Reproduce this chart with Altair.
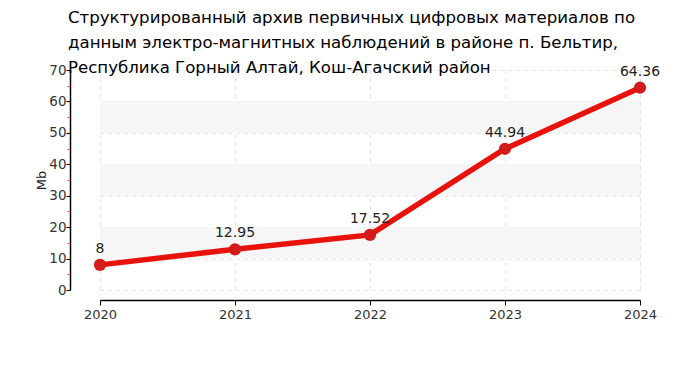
import altair as alt
import pandas as pd

years = [2020, 2021, 2022, 2023, 2024]
values = [8, 12.95, 17.52, 44.94, 64.36]
labels = ["8", "12.95", "17.52", "44.94", "64.36"]
band_start = [10, 30, 50]
band_end = [20, 40, 60]
minor_ticks = [5, 15, 25, 35, 45, 55, 65]
title_lines = [
    "Структурированный архив первичных цифровых материалов по",
    "данным электро-магнитных наблюдений в районе п. Бельтир,",
    "Республика Горный Алтай, Кош-Агачский район",
]

df = pd.DataFrame({"year": years, "value": values, "label": labels})
bands = pd.DataFrame({"y1": band_start, "y2": band_end})
minor = pd.DataFrame({"v": minor_ticks})

FONT = "DejaVu Sans"
yscale = alt.Scale(domain=[0, 70], nice=False)
xscale = alt.Scale(domain=[2020, 2024], nice=False)

band_layer = alt.Chart(bands).mark_rect(color="#f6f6f6").encode(
    y=alt.Y("y1:Q", scale=yscale,
            axis=alt.Axis(title="Mb", values=[0, 10, 20, 30, 40, 50, 60, 70],
                          offset=30, grid=True, gridDash=[4, 4], gridColor="#e4e4e4",
                          domainColor="#000", domainWidth=1.5, tickColor="#000",
                          tickSize=4, labelFontSize=13.5, labelColor="#333",
                          labelFont=FONT, titleFont=FONT, titleFontSize=13,
                          titleFontWeight="normal", titleColor="#222", titlePadding=0,
                          labelPadding=0, orient="left")),
    y2="y2:Q",
    x=alt.value(0),
    x2=alt.value(540),
)

minor_layer = alt.Chart(minor).mark_point(opacity=0).encode(
    y=alt.Y("v:Q", scale=yscale,
            axis=alt.Axis(title=None, values=minor_ticks, labels=False, domain=False,
                          grid=False, tickColor="#ff4040", tickSize=3, offset=30,
                          orient="left")),
    x=alt.value(0),
)

line_layer = alt.Chart(df).mark_line(color="#e8120c", strokeWidth=5.5).encode(
    x=alt.X("year:Q", scale=xscale,
            axis=alt.Axis(title=None, values=years, format="d", offset=10,
                          grid=True, gridDash=[4, 4], gridColor="#e4e4e4",
                          domainColor="#000", domainWidth=1.5, tickColor="#000",
                          tickSize=5, labelFontSize=13, labelColor="#333",
                          labelFont=FONT, labelPadding=3, labelFlush=False)),
    y=alt.Y("value:Q", scale=yscale, axis=None),
)

point_layer = alt.Chart(df).mark_circle(color="#d41b1b", size=150, opacity=1).encode(
    x=alt.X("year:Q", scale=xscale),
    y=alt.Y("value:Q", scale=yscale, axis=None),
)

text_layer = alt.Chart(df).mark_text(font=FONT, fontSize=14, color="#222", dy=-16).encode(
    x=alt.X("year:Q", scale=xscale),
    y=alt.Y("value:Q", scale=yscale, axis=None),
    text="label:N",
)

chart = alt.layer(band_layer, minor_layer, line_layer, point_layer, text_layer).resolve_axis(
    y="independent"
).resolve_scale(y="shared").properties(
    width=540,
    height=220,
    autosize=alt.AutoSizeParams(type="none"),
    padding={"left": 92, "top": 62, "right": 52, "bottom": 80},
    title=alt.TitleParams(text=title_lines, anchor="start", font=FONT, fontSize=16.6,
                          fontWeight="normal", color="#000", lineHeight=25,
                          dx=-32, offset=-14, frame="group"),
).configure_view(stroke=None)

chart.save("out.html", embed_options={"renderer": "svg", "actions": False})
